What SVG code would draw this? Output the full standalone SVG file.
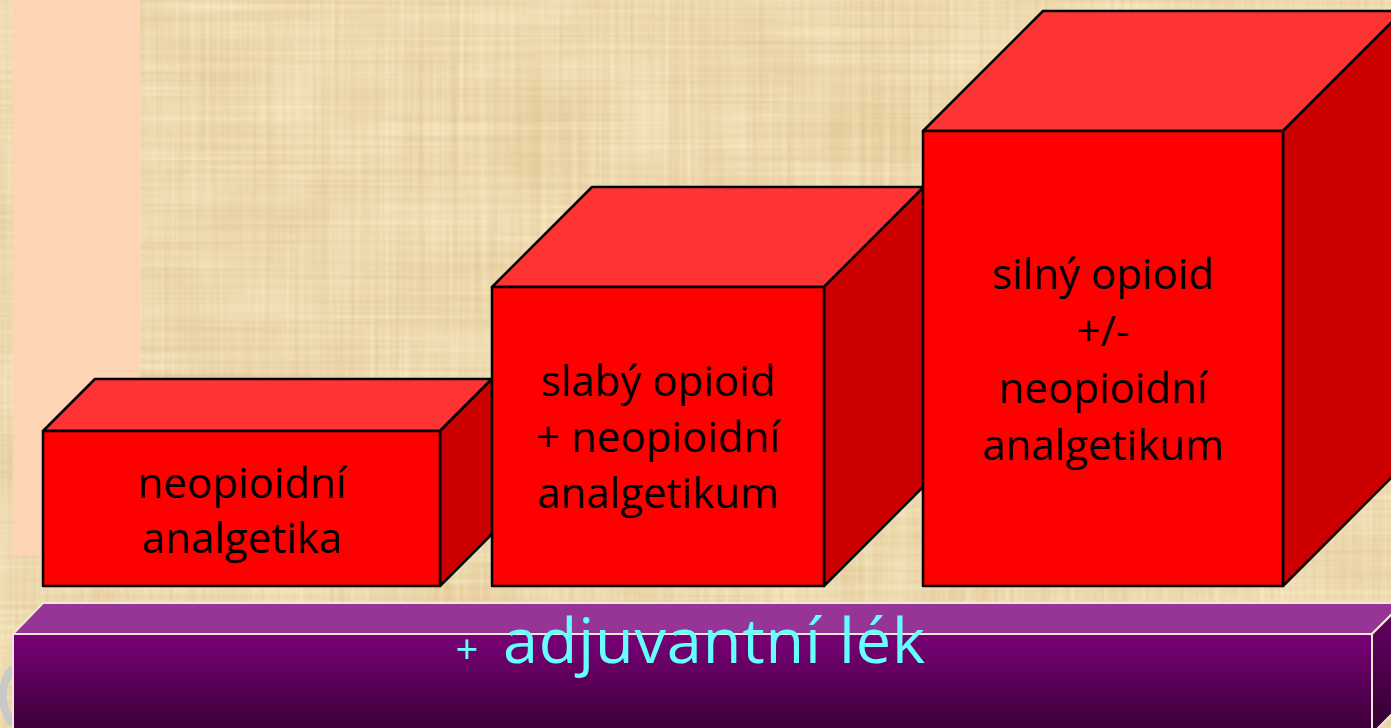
<svg xmlns="http://www.w3.org/2000/svg" width="1391" height="728" viewBox="0 0 1391 728">
  <style>
    .front { fill: #ff0000; stroke: #000; stroke-width: 2.5; stroke-linejoin: round; }
    .top { fill: #ff3333; stroke: #000; stroke-width: 2.5; stroke-linejoin: round; }
    .side { fill: #cc0000; stroke: #000; stroke-width: 2.5; stroke-linejoin: round; }
    .lbl { font-family: "Open Sans", "Liberation Sans", sans-serif; font-size: 42px; fill: #000; text-anchor: middle; }
    .bar-edge { stroke: #f2e6d6; stroke-width: 2; stroke-linejoin: round; }
    .cyan { font-family: "Open Sans", "Liberation Sans", sans-serif; fill: #66ffff; }
  </style>
  <defs>
    <filter id="paper" x="0" y="0" width="100%" height="100%" color-interpolation-filters="sRGB">
      <feTurbulence type="fractalNoise" baseFrequency="0.003 0.2" numOctaves="2" seed="3" result="h"/>
      <feTurbulence type="fractalNoise" baseFrequency="0.2 0.003" numOctaves="2" seed="7" result="v"/>
      <feTurbulence type="fractalNoise" baseFrequency="0.012" numOctaves="2" seed="11" result="b"/>
      <feComposite in="h" in2="v" operator="arithmetic" k2="0.35" k3="0.35" result="hv"/>
      <feComposite in="hv" in2="b" operator="arithmetic" k2="1" k3="0.3" result="n"/>
      <feColorMatrix in="n" type="matrix" values="0.18 0 0 0 0.84  0.24 0 0 0 0.73  0.34 0 0 0 0.51  0 0 0 0 1"/>
    </filter>
    <linearGradient id="barFront" x1="0" y1="0" x2="0" y2="1">
      <stop offset="0" stop-color="#7a0078"/>
      <stop offset="1" stop-color="#3a0036"/>
    </linearGradient>
    <linearGradient id="barSide" x1="0" y1="0" x2="0" y2="1">
      <stop offset="0" stop-color="#6a0068"/>
      <stop offset="1" stop-color="#32002f"/>
    </linearGradient>
  </defs>

  <!-- background -->
  <rect x="0" y="0" width="1391" height="728" fill="#eedcab"/>
  <rect x="0" y="0" width="1391" height="728" filter="url(#paper)"/>
  <rect x="13" y="0" width="127" height="555" fill="#fdd5b5"/>
  <path d="M13,668 Q-8,695 13,724" fill="none" stroke="#c8c8c8" stroke-width="8"/>

  <g id="connectors"></g>

  <!-- step 1 -->
  <g id="box1">
    <polygon class="top" points="43,431 95,379 492,379 440,431"/>
    <polygon class="side" points="440,431 492,379 492,534 440,586"/>
    <rect class="front" x="43" y="431" width="397" height="155"/>
    <text class="lbl" x="242" y="498">neopioidní</text>
    <text class="lbl" x="242" y="553">analgetika</text>
  </g>

  <!-- step 2 -->
  <g id="box2">
    <polygon class="top" points="492,287 592,187 924,187 824,287"/>
    <polygon class="side" points="824,287 924,187 924,486 824,586"/>
    <rect class="front" x="492" y="287" width="332" height="299"/>
    <text class="lbl" x="658" y="396">slabý opioid</text>
    <text class="lbl" x="658" y="452">+ neopioidní</text>
    <text class="lbl" x="658" y="508">analgetikum</text>
  </g>

  <!-- step 3 -->
  <g id="box3">
    <polygon class="top" points="923,131 1043,11 1403,11 1283,131"/>
    <polygon class="side" points="1283,131 1403,11 1403,466 1283,586"/>
    <rect class="front" x="923" y="131" width="360" height="455"/>
    <text class="lbl" x="1103" y="289">silný opioid</text>
    <text class="lbl" x="1103" y="346">+/-</text>
    <text class="lbl" x="1103" y="403">neopioidní</text>
    <text class="lbl" x="1103" y="460">analgetikum</text>
  </g>

  <!-- base bar -->
  <g id="bar">
    <polygon class="bar-edge" fill="#963596" points="13,634 43,603 1403,603 1372,634"/>
    <polygon class="bar-edge" fill="url(#barSide)" points="1372,634 1403,603 1403,703 1372,734"/>
    <rect class="bar-edge" fill="url(#barFront)" x="13" y="634" width="1359" height="100"/>
    <text class="cyan" x="467" y="664" font-size="40" text-anchor="middle">+</text>
    <text class="cyan" x="503" y="663" font-size="63" textLength="422" lengthAdjust="spacing">adjuvantní lék</text>
  </g>
</svg>
